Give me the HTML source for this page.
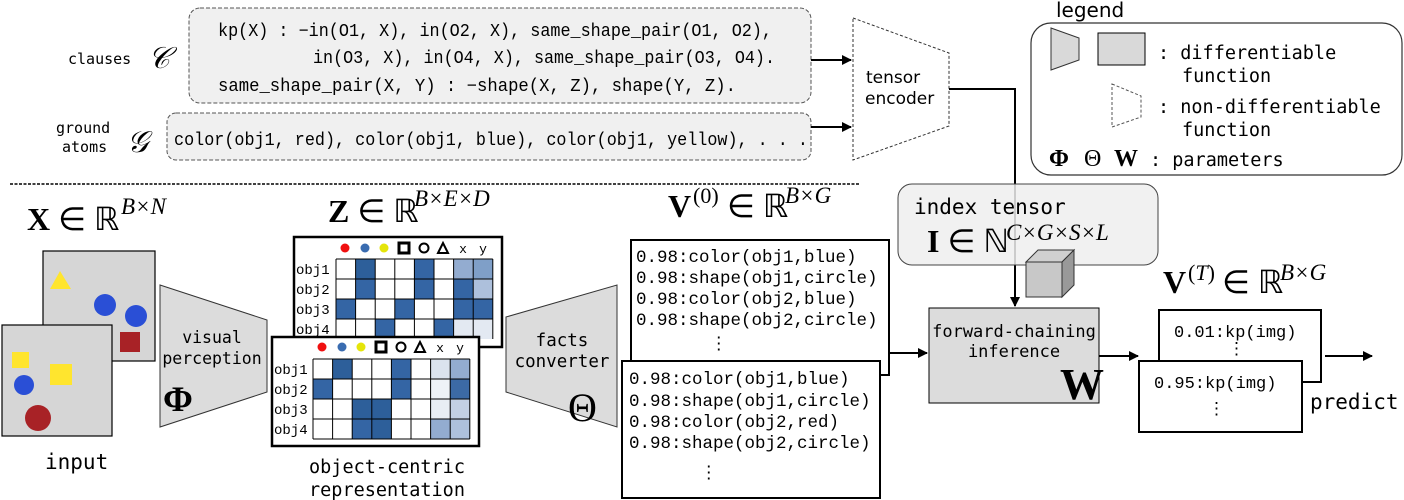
<!DOCTYPE html>
<html><head><meta charset="utf-8"><style>
html,body{margin:0;padding:0;background:#fff;}
svg{display:block}
.m{font-family:"Liberation Mono",monospace}
.s{font-family:"DejaVu Sans","Liberation Sans",sans-serif}
.sm{font-family:"DejaVu Sans Mono","Liberation Mono",monospace}
.r{font-family:"Liberation Serif",serif}
</style></head><body>
<svg width="1404" height="500" viewBox="0 0 1404 500" xmlns="http://www.w3.org/2000/svg">
<defs>
<marker id="ah" markerWidth="10" markerHeight="10" refX="9" refY="5" orient="auto" markerUnits="userSpaceOnUse"><path d="M0,0 L10,5 L0,10 z" fill="#000"/></marker>
</defs>

<text x="68" y="64" class="sm" font-size="15">clauses</text>
<text x="148" y="68" class="r" font-style="italic" font-size="30">𝒞</text>
<rect x="189" y="8" width="622" height="95" rx="11" fill="#f0f0f0" stroke="#555" stroke-dasharray="4,2"/>
<text x="218" y="36" class="m" font-size="18" textLength="554" lengthAdjust="spacingAndGlyphs">kp(X) : −in(O1, X), in(O2, X), same_shape_pair(O1, O2),</text>
<text x="313" y="63" class="m" font-size="18" textLength="462" lengthAdjust="spacingAndGlyphs">in(O3, X), in(O4, X), same_shape_pair(O3, O4).</text>
<text x="218" y="91" class="m" font-size="18" textLength="518" lengthAdjust="spacingAndGlyphs">same_shape_pair(X, Y) : −shape(X, Z), shape(Y, Z).</text>
<line x1="811" y1="60" x2="851" y2="60" stroke="#000" stroke-width="2" marker-end="url(#ah)"/>

<text x="56" y="133" class="sm" font-size="15">ground</text>
<text x="62" y="152" class="sm" font-size="15">atoms</text>
<text x="127" y="152" class="r" font-style="italic" font-size="30">𝒢</text>
<rect x="167" y="113" width="644" height="47" rx="9" fill="#f0f0f0" stroke="#555" stroke-dasharray="4,2"/>
<text x="174" y="145" class="m" font-size="18" textLength="634" lengthAdjust="spacingAndGlyphs">color(obj1, red), color(obj1, blue), color(obj1, yellow), . . .</text>
<line x1="811" y1="127" x2="851" y2="127" stroke="#000" stroke-width="2" marker-end="url(#ah)"/>

<polygon points="853,18 949,53 949,126 853,160" fill="#fff" stroke="#333" stroke-dasharray="3,2"/>
<text x="866" y="83" class="s" font-size="17">tensor</text>
<text x="865" y="104" class="s" font-size="17">encoder</text>
<polyline points="949,89 1015,89 1015,306" fill="none" stroke="#000" stroke-width="2" marker-end="url(#ah)"/>

<line x1="10" y1="184" x2="860" y2="184" stroke="#000" stroke-width="1.5" stroke-dasharray="3,1.5"/>

<text x="1056" y="17" class="s" font-size="20">legend</text>
<rect x="1031" y="23" width="371" height="152" rx="20" fill="#fff" stroke="#333" stroke-width="1.2"/>
<polygon points="1051,28 1079,38 1079,60 1051,70" fill="#d9d9d9" stroke="#333"/>
<rect x="1098" y="33" width="47" height="32" fill="#d9d9d9" stroke="#000"/>
<text x="1158" y="59" class="sm" font-size="18.5">: differentiable</text>
<text x="1182" y="82" class="sm" font-size="18.5">function</text>
<polygon points="1112,84 1141,96 1141,117 1112,127" fill="#fff" stroke="#555" stroke-dasharray="3,2"/>
<text x="1158" y="113" class="sm" font-size="18.5">: non-differentiable</text>
<text x="1182" y="136" class="sm" font-size="18.5">function</text>
<text x="1049" y="166" class="r" font-weight="bold" font-size="24">Φ</text>
<text x="1084" y="166" class="r" font-size="24">Θ</text>
<text x="1114" y="166" class="r" font-weight="bold" font-size="24">W</text>
<text x="1150" y="166" class="sm" font-size="18.5">: parameters</text>

<rect x="898" y="184" width="260" height="81" rx="14" fill="#efefef" fill-opacity="0.85" stroke="#444"/>
<text x="914" y="214" class="sm" font-size="21">index tensor</text>
<text x="927" y="252" class="r" font-size="32"><tspan font-weight="bold">I</tspan> ∈ ℕ</text>
<text x="1006" y="240" class="r" font-style="italic" font-size="23">C×G×S×L</text>
<polygon points="1026,262 1038,250 1074,250 1062,262" fill="#d0d0d0" stroke="#333"/>
<polygon points="1062,262 1074,250 1074,285 1062,297" fill="#999" stroke="#333"/>
<rect x="1026" y="262" width="36" height="35" fill="#c8c8c8" stroke="#333"/>

<rect x="929" y="308" width="170" height="95" fill="#dcdcdc" stroke="#000"/>
<text x="1014" y="337" class="sm" font-size="17" text-anchor="middle">forward-chaining</text>
<text x="1014" y="357" class="sm" font-size="17" text-anchor="middle">inference</text>
<text x="1060" y="399" class="r" font-weight="bold" font-size="44">W</text>
<line x1="1099" y1="356" x2="1138" y2="356" stroke="#000" stroke-width="2" marker-end="url(#ah)"/>

<text x="1163" y="293" class="r" font-size="32"><tspan font-weight="bold">V</tspan></text>
<text x="1188" y="280" class="r" font-size="22">(<tspan font-style="italic">T</tspan>)</text>
<text x="1222" y="293" class="r" font-size="32">∈ ℝ</text>
<text x="1280" y="280" class="r" font-style="italic" font-size="23">B×G</text>
<rect x="1159" y="310" width="162" height="72" fill="#fff" stroke="#000" stroke-width="2"/>
<text x="1174" y="337" class="m" font-size="17">0.01:kp(img)</text>
<text x="1228" y="354" class="m" font-size="17">⋮</text>
<rect x="1139" y="361" width="163" height="71" fill="#fff" stroke="#000" stroke-width="2"/>
<text x="1154" y="388" class="m" font-size="17">0.95:kp(img)</text>
<text x="1208" y="414" class="m" font-size="17">⋮</text>
<line x1="1325" y1="356" x2="1372" y2="356" stroke="#000" stroke-width="2" marker-end="url(#ah)"/>
<text x="1310" y="409" class="sm" font-size="21">predict</text>

<text x="27" y="230" class="r" font-size="32"><tspan font-weight="bold">X</tspan> ∈ ℝ</text>
<text x="121" y="214" class="r" font-style="italic" font-size="23">B×N</text>

<rect x="43" y="251" width="112" height="110" fill="#d6d6d6" stroke="#000" stroke-width="1.2"/>
<polygon points="50,289 60,271 71,289" fill="#ffe52e"/>
<circle cx="105" cy="305" r="11" fill="#2a4fd6"/>
<circle cx="136" cy="316" r="11" fill="#2a4fd6"/>
<rect x="120" y="332" width="20" height="20" fill="#a82226"/>
<rect x="2" y="325" width="110" height="111" fill="#d6d6d6" stroke="#000" stroke-width="1.2"/>
<rect x="12" y="352" width="17" height="16" fill="#ffe52e"/>
<rect x="50" y="364" width="22" height="21" fill="#ffe52e"/>
<circle cx="24" cy="385" r="10" fill="#2a4fd6"/>
<circle cx="38" cy="418" r="13" fill="#a82226"/>
<text x="45" y="469" class="sm" font-size="21">input</text>

<polygon points="160,285 267,320 267,392 160,427" fill="#dcdcdc" stroke="#333"/>
<text x="212" y="343" class="sm" font-size="16.5" text-anchor="middle">visual</text>
<text x="212" y="364" class="sm" font-size="16.5" text-anchor="middle">perception</text>
<text x="163" y="411" class="r" font-weight="bold" font-size="36">Φ</text>

<text x="328" y="222" class="r" font-size="32"><tspan font-weight="bold">Z</tspan> ∈ ℝ</text>
<text x="414" y="206" class="r" font-style="italic" font-size="23">B×E×D</text>

<rect x="294" y="237" width="208" height="110" fill="#fff" stroke="#000" stroke-width="2.5"/>
<circle cx="345" cy="248" r="4.5" fill="#f01010"/>
<circle cx="365" cy="248" r="4.5" fill="#3a6cb0"/>
<circle cx="384" cy="248" r="4.5" fill="#e5e50a"/>
<rect x="399" y="243" width="10" height="10" fill="none" stroke="#000" stroke-width="3"/>
<circle cx="424" cy="248" r="4.5" fill="none" stroke="#000" stroke-width="2"/>
<polygon points="438,253 443,243 448,253" fill="none" stroke="#000" stroke-width="2"/>
<text x="463" y="253" class="m" font-size="13" text-anchor="middle">x</text>
<text x="483" y="253" class="m" font-size="13" text-anchor="middle">y</text>
<g class="m" font-size="14"><text x="296" y="274">obj1</text><text x="296" y="294">obj2</text><text x="296" y="314">obj3</text><text x="296" y="334">obj4</text></g>
<g stroke="none">
<rect x="355.6" y="259" width="19.6" height="20" fill="#2d5f9a"/><rect x="414.4" y="259" width="19.6" height="20" fill="#3465a4"/><rect x="453.6" y="259" width="19.6" height="20" fill="#93acd0"/><rect x="473.2" y="259" width="19.6" height="20" fill="#7f9fc8"/>
<rect x="355.6" y="279" width="19.6" height="20" fill="#3465a4"/><rect x="414.4" y="279" width="19.6" height="20" fill="#3465a4"/><rect x="453.6" y="279" width="19.6" height="20" fill="#3465a4"/><rect x="473.2" y="279" width="19.6" height="20" fill="#adc0dc"/>
<rect x="336" y="299" width="19.6" height="20" fill="#3465a4"/><rect x="394.8" y="299" width="19.6" height="20" fill="#3465a4"/><rect x="453.6" y="299" width="19.6" height="20" fill="#3465a4"/><rect x="473.2" y="299" width="19.6" height="20" fill="#3465a4"/>
<rect x="375.2" y="319" width="19.6" height="20" fill="#3465a4"/><rect x="434" y="319" width="19.6" height="20" fill="#3465a4"/><rect x="453.6" y="319" width="19.6" height="20" fill="#e3e9f2"/><rect x="473.2" y="319" width="19.6" height="20" fill="#e3e9f2"/>
</g>
<g stroke="#000" stroke-width="1">
<line x1="336" y1="259" x2="336" y2="339"/><line x1="355.6" y1="259" x2="355.6" y2="339"/><line x1="375.2" y1="259" x2="375.2" y2="339"/><line x1="394.8" y1="259" x2="394.8" y2="339"/><line x1="414.4" y1="259" x2="414.4" y2="339"/><line x1="434" y1="259" x2="434" y2="339"/><line x1="453.6" y1="259" x2="453.6" y2="339"/><line x1="473.2" y1="259" x2="473.2" y2="339"/><line x1="492.8" y1="259" x2="492.8" y2="339"/>
<line x1="336" y1="259" x2="492.8" y2="259"/><line x1="336" y1="279" x2="492.8" y2="279"/><line x1="336" y1="299" x2="492.8" y2="299"/><line x1="336" y1="319" x2="492.8" y2="319"/>
</g>

<rect x="272" y="337" width="207" height="109" fill="#fff" stroke="#000" stroke-width="2.5"/>
<circle cx="322" cy="347" r="4.5" fill="#f01010"/>
<circle cx="342" cy="347" r="4.5" fill="#3a6cb0"/>
<circle cx="361" cy="347" r="4.5" fill="#e5e50a"/>
<rect x="376" y="342" width="10" height="10" fill="none" stroke="#000" stroke-width="3"/>
<circle cx="401" cy="347" r="4.5" fill="none" stroke="#000" stroke-width="2"/>
<polygon points="415,352 420,342 425,352" fill="none" stroke="#000" stroke-width="2"/>
<text x="440" y="352" class="m" font-size="13" text-anchor="middle">x</text>
<text x="460" y="352" class="m" font-size="13" text-anchor="middle">y</text>
<g class="m" font-size="14"><text x="274" y="374">obj1</text><text x="274" y="394">obj2</text><text x="274" y="414">obj3</text><text x="274" y="434">obj4</text></g>
<g stroke="none">
<rect x="332.6" y="359" width="19.6" height="20" fill="#2d5f9a"/><rect x="391.4" y="359" width="19.6" height="20" fill="#3465a4"/><rect x="430.6" y="359" width="19.6" height="20" fill="#dbe3ee"/><rect x="450.2" y="359" width="19.6" height="20" fill="#93acd0"/>
<rect x="313" y="379" width="19.6" height="20" fill="#3465a4"/><rect x="391.4" y="379" width="19.6" height="20" fill="#3465a4"/><rect x="430.6" y="379" width="19.6" height="20" fill="#eef2f7"/><rect x="450.2" y="379" width="19.6" height="20" fill="#3c6aa5"/>
<rect x="352.2" y="399" width="19.6" height="20" fill="#2d5f9a"/><rect x="371.8" y="399" width="19.6" height="20" fill="#2d5f9a"/><rect x="430.6" y="399" width="19.6" height="20" fill="#e8edf4"/><rect x="450.2" y="399" width="19.6" height="20" fill="#c2d0e4"/>
<rect x="352.2" y="419" width="19.6" height="20" fill="#3465a4"/><rect x="371.8" y="419" width="19.6" height="20" fill="#2d5f9a"/><rect x="430.6" y="419" width="19.6" height="20" fill="#93acd0"/><rect x="450.2" y="419" width="19.6" height="20" fill="#aec1dc"/>
</g>
<g stroke="#000" stroke-width="1">
<line x1="313" y1="359" x2="313" y2="439"/><line x1="332.6" y1="359" x2="332.6" y2="439"/><line x1="352.2" y1="359" x2="352.2" y2="439"/><line x1="371.8" y1="359" x2="371.8" y2="439"/><line x1="391.4" y1="359" x2="391.4" y2="439"/><line x1="411" y1="359" x2="411" y2="439"/><line x1="430.6" y1="359" x2="430.6" y2="439"/><line x1="450.2" y1="359" x2="450.2" y2="439"/><line x1="469.8" y1="359" x2="469.8" y2="439"/>
<line x1="313" y1="359" x2="469.8" y2="359"/><line x1="313" y1="379" x2="469.8" y2="379"/><line x1="313" y1="399" x2="469.8" y2="399"/><line x1="313" y1="419" x2="469.8" y2="419"/><line x1="313" y1="439" x2="469.8" y2="439"/>
</g>
<text x="387" y="473" class="sm" font-size="18.5" text-anchor="middle">object-centric</text>
<text x="387" y="496" class="sm" font-size="18.5" text-anchor="middle">representation</text>

<polygon points="506,317 617,285 617,427 506,392" fill="#dcdcdc" stroke="#333"/>
<text x="562" y="346" class="sm" font-size="17.5" text-anchor="middle">facts</text>
<text x="562" y="367" class="sm" font-size="17.5" text-anchor="middle">converter</text>
<text x="568" y="421" class="r" font-size="40">Θ</text>

<text x="668" y="217" class="r" font-size="32"><tspan font-weight="bold">V</tspan></text>
<text x="693" y="203" class="r" font-size="22">(0)</text>
<text x="727" y="217" class="r" font-size="32">∈ ℝ</text>
<text x="785" y="203" class="r" font-style="italic" font-size="23">B×G</text>
<rect x="631" y="240" width="258" height="135" fill="#fff" stroke="#000" stroke-width="2"/>
<g class="m" font-size="17.5">
<text x="636" y="262">0.98:color(obj1,blue)</text>
<text x="636" y="283">0.98:shape(obj1,circle)</text>
<text x="636" y="304">0.98:color(obj2,blue)</text>
<text x="636" y="325">0.98:shape(obj2,circle)</text>
<text x="710" y="349">⋮</text>
</g>
<line x1="889" y1="353" x2="927" y2="353" stroke="#000" stroke-width="2" marker-end="url(#ah)"/>
<rect x="622" y="361" width="258" height="137" fill="#fff" stroke="#000" stroke-width="2"/>
<g class="m" font-size="17.5">
<text x="629" y="384">0.98:color(obj1,blue)</text>
<text x="629" y="406">0.98:shape(obj1,circle)</text>
<text x="629" y="427">0.98:color(obj2,red)</text>
<text x="629" y="448">0.98:shape(obj2,circle)</text>
<text x="700" y="478">⋮</text>
</g>
</svg>
</body></html>
